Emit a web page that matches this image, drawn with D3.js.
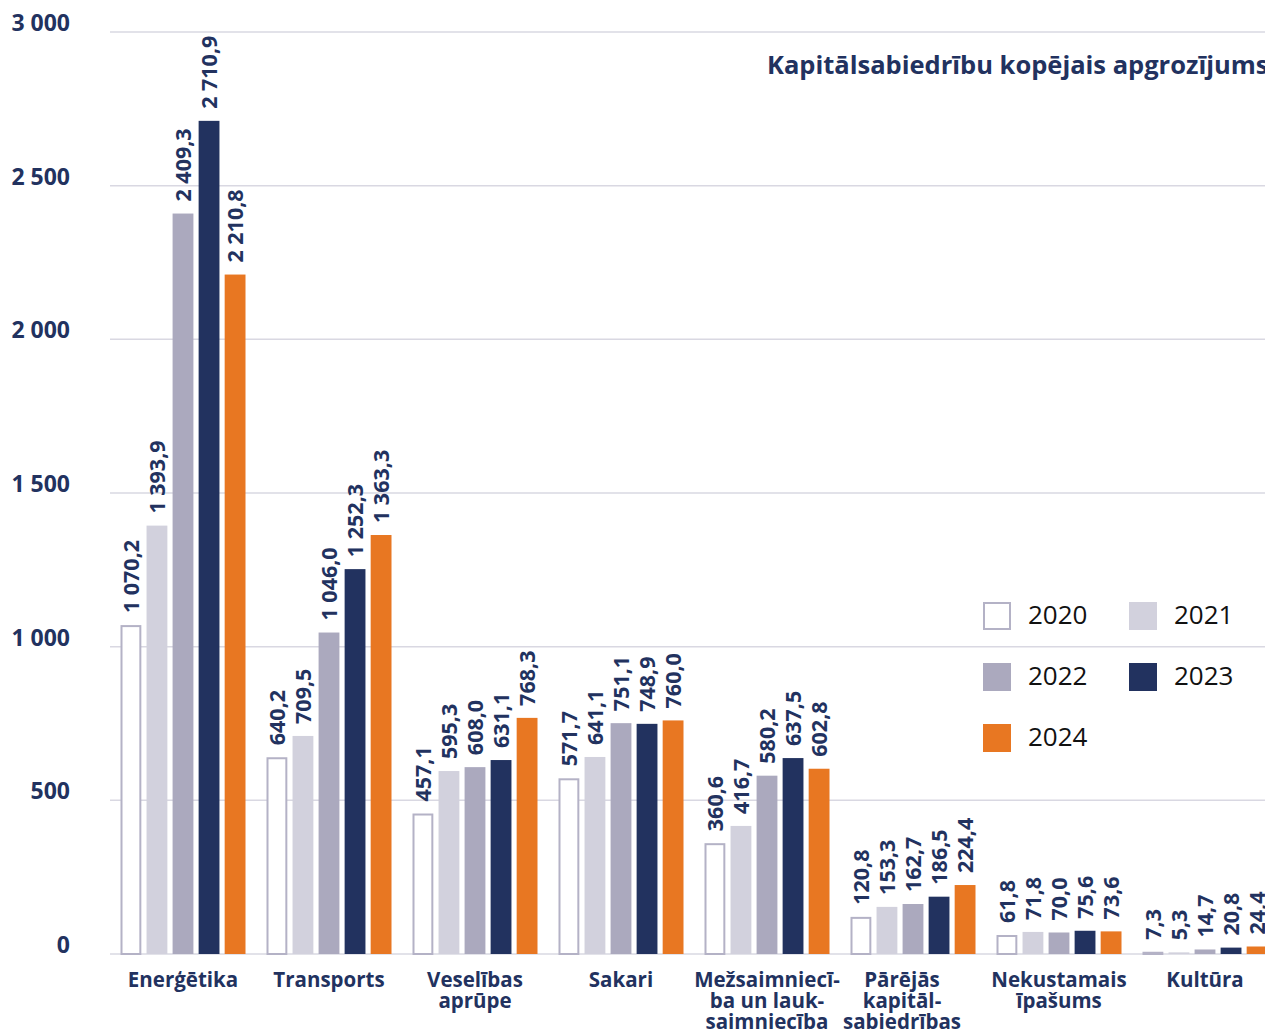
<!DOCTYPE html>
<html>
<head>
<meta charset="utf-8">
<script src="https://cdn.jsdelivr.net/npm/d3@7"></script>
<style>
  body { margin: 0; background: #fff; }
  svg { display: block; font-family: "Open Sans", "Noto Sans", sans-serif; }
</style>
</head>
<body>
<svg id="chart"></svg>
<script>
const width = 1265;
const height = 1032;

// data
const categories = ["Enerģētika", "Transports", "Veselības aprūpe", "Sakari",
  "Mežsaimniecība un lauksaimniecība", "Pārējās kapitālsabiedrības", "Nekustamais īpašums", "Kultūra"];
const categoryLines = [
  ["Enerģētika"], ["Transports"], ["Veselības", "aprūpe"], ["Sakari"],
  ["Mežsaimniecī-", "ba un lauk-", "saimniecība"], ["Pārējās", "kapitāl-", "sabiedrības"],
  ["Nekustamais", "īpašums"], ["Kultūra"]
];
const years = ["2020", "2021", "2022", "2023", "2024"];
const v2020 = [1070.2, 640.2, 457.1, 571.7, 360.6, 120.8, 61.8, 7.3];
const v2021 = [1393.9, 709.5, 595.3, 641.1, 416.7, 153.3, 71.8, 5.3];
const v2022 = [2409.3, 1046.0, 608.0, 751.1, 580.2, 162.7, 70.0, 14.7];
const v2023 = [2710.9, 1252.3, 631.1, 748.9, 637.5, 186.5, 75.6, 20.8];
const v2024 = [2210.8, 1363.3, 768.3, 760.0, 602.8, 224.4, 73.6, 24.4];
const yTicks = [0, 500, 1000, 1500, 2000, 2500, 3000];
const title = "Kapitālsabiedrību kopējais apgrozījums";

const series = [v2020, v2021, v2022, v2023, v2024];
const colors = ["#ffffff", "#d2d1dd", "#aba9be", "#22325f", "#e87722"];
const navy = "#22325f";

const locale = d3.formatLocale({decimal: ",", thousands: " ", grouping: [3], currency: ["", ""]});
const fmtVal = locale.format(",.1f");
const fmtTick = locale.format(",d");

let svg = d3.select("#chart")
  .attr("width", width)
  .attr("height", height);

const x = d3.scaleBand()
  .domain(categories)
  .range([110, 1278])
  .padding(0);

const xInner = d3.scaleBand()
  .domain(years)
  .range([10.5, x.bandwidth() - 10.5])
  .paddingInner(0.2);

const y = d3.scaleLinear()
  .domain([0, 3000])
  .range([954, 32]);

// gridlines
svg.append("g")
  .selectAll("line")
  .data(yTicks)
  .join("line")
  .attr("x1", 110)
  .attr("x2", width)
  .attr("y1", d => y(d))
  .attr("y2", d => y(d))
  .style("stroke", "#d9d8e2")
  .style("stroke-width", 1.5);

// y tick labels
svg.append("g")
  .selectAll("text")
  .data(yTicks)
  .join("text")
  .attr("x", 70)
  .attr("y", d => y(d) - 7)
  .attr("text-anchor", "end")
  .attr("dominant-baseline", "middle")
  .style("font-size", "23px")
  .style("font-weight", 700)
  .style("fill", navy)
  .text(d => fmtTick(d));

// title
svg.append("text")
  .attr("x", 767)
  .attr("y", 74)
  .style("font-size", "25.5px")
  .style("font-weight", 700)
  .style("fill", navy)
  .text(title);

// bars
const groups = svg.append("g")
  .selectAll("g")
  .data(categories)
  .join("g")
  .attr("transform", d => `translate(${x(d)},0)`);

groups.each(function(cat, ci) {
  const g = d3.select(this);
  years.forEach((yr, si) => {
    const val = series[si][ci];
    const bx = xInner(yr);
    const bw = xInner.bandwidth();
    if (si === 0) {
      g.append("rect")
        .attr("x", bx + 1)
        .attr("y", y(val) + 1)
        .attr("width", bw - 2)
        .attr("height", Math.max(0, y(0) - y(val) - 1))
        .style("fill", "#fff")
        .style("stroke", "#b4b2c6")
        .style("stroke-width", 2);
    } else {
      g.append("rect")
        .attr("x", bx)
        .attr("y", y(val))
        .attr("width", bw)
        .attr("height", y(0) - y(val))
        .style("fill", colors[si]);
    }
    const cx = bx + bw / 2;
    const ty = y(val) - 12;
    g.append("text")
      .attr("transform", `translate(${cx + 8},${ty}) rotate(-90)`)
      .style("font-size", "21.5px")
      .style("font-weight", 700)
      .style("fill", navy)
      .text(fmtVal(val));
  });
});

// category labels (the wrapped "Pārējās" label sits a bit left of its group)
svg.append("g")
  .selectAll("text")
  .data(categories)
  .join("text")
  .attr("text-anchor", "middle")
  .style("font-size", "20.5px")
  .style("font-weight", 700)
  .style("fill", navy)
  .each(function(d, i) {
    const t = d3.select(this);
    const shift = i === 5 ? -11 : 0;
    categoryLines[i].forEach((line, li) => {
      t.append("tspan")
        .attr("x", x(d) + x.bandwidth() / 2 + shift)
        .attr("y", 987 + li * 21)
        .text(line);
    });
  });

// legend
const legendPos = [[983, 602], [1129, 602], [983, 663], [1129, 663], [983, 724]];
const legend = svg.append("g");
years.forEach((yr, i) => {
  const [lx, ly] = legendPos[i];
  legend.append("rect")
    .attr("x", i === 0 ? lx + 1 : lx)
    .attr("y", i === 0 ? ly + 1 : ly)
    .attr("width", i === 0 ? 26 : 28)
    .attr("height", i === 0 ? 26 : 28)
    .style("fill", colors[i])
    .style("stroke", i === 0 ? "#b4b2c6" : "none")
    .style("stroke-width", 2);
  legend.append("text")
    .attr("x", lx + 45)
    .attr("y", ly + 15)
    .attr("dominant-baseline", "middle")
    .style("font-size", "26px")
    .style("fill", "#111")
    .text(yr);
});
</script>
</body>
</html>
